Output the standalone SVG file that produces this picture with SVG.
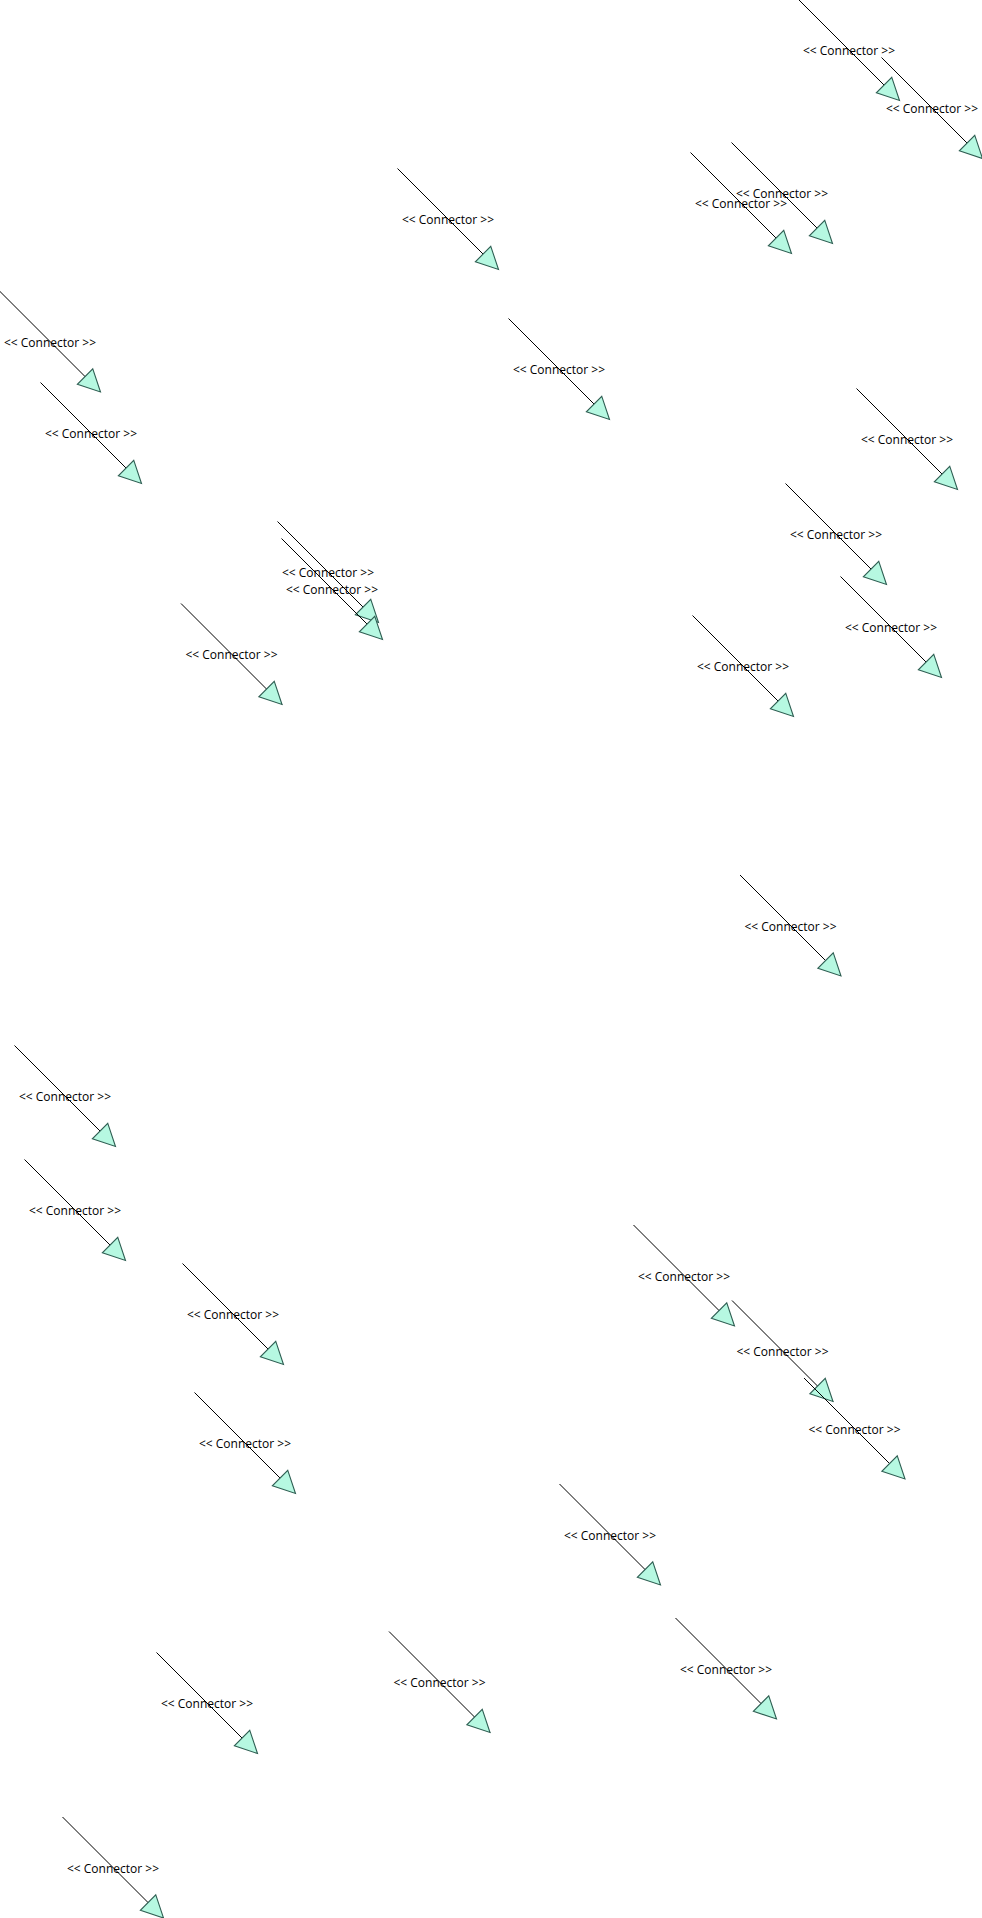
<svg xmlns="http://www.w3.org/2000/svg" width="982" height="1918" viewBox="0 0 982 1918">
<style>
.c line{stroke:#000;stroke-width:1;fill:none;marker-end:url(#ah)}
.c text{font-family:"Open Sans","Noto Sans","Liberation Sans",sans-serif;font-size:12px;fill:#000;text-anchor:middle}
</style>
<defs>
<marker id="ah" markerUnits="userSpaceOnUse" markerWidth="24" markerHeight="24" viewBox="-1 -11 22 22" refX="20" refY="0" orient="auto" overflow="visible">
<path d="M0,-10 L20,0 L0,10 Z" fill="#b6f8e1" stroke="#2e5e52" stroke-width="1" stroke-linejoin="miter"/>
</marker>
</defs>
<rect width="982" height="1918" fill="#fff"/>
<g id="connectors" class="c">
<g id="c1"><line x1="798.5" y1="-0.5" x2="899.5" y2="100.5"/><text x="849" y="55">&lt;&lt; Connector &gt;&gt;</text></g>
<g id="c2"><line x1="881.5" y1="57.5" x2="982.5" y2="158.5"/><text x="932" y="113">&lt;&lt; Connector &gt;&gt;</text></g>
<g id="c3"><line x1="731.5" y1="142.5" x2="832.5" y2="243.5"/><text x="782" y="198">&lt;&lt; Connector &gt;&gt;</text></g>
<g id="c4"><line x1="690.5" y1="152.5" x2="791.5" y2="253.5"/><text x="741" y="208">&lt;&lt; Connector &gt;&gt;</text></g>
<g id="c5"><line x1="397.5" y1="168.5" x2="498.5" y2="269.5"/><text x="448" y="224">&lt;&lt; Connector &gt;&gt;</text></g>
<g id="c6"><line x1="-0.5" y1="291" x2="100.5" y2="392"/><text x="50" y="346.5">&lt;&lt; Connector &gt;&gt;</text></g>
<g id="c7"><line x1="508.5" y1="318.5" x2="609.5" y2="419.5"/><text x="559" y="374">&lt;&lt; Connector &gt;&gt;</text></g>
<g id="c8"><line x1="40.5" y1="382.5" x2="141.5" y2="483.5"/><text x="91" y="438">&lt;&lt; Connector &gt;&gt;</text></g>
<g id="c9"><line x1="856.5" y1="388.5" x2="957.5" y2="489.5"/><text x="907" y="444">&lt;&lt; Connector &gt;&gt;</text></g>
<g id="c10"><line x1="785.5" y1="483.5" x2="886.5" y2="584.5"/><text x="836" y="539">&lt;&lt; Connector &gt;&gt;</text></g>
<g id="c11"><line x1="277.5" y1="521.5" x2="378.5" y2="622.5"/><text x="328" y="577">&lt;&lt; Connector &gt;&gt;</text></g>
<g id="c12"><line x1="281.5" y1="538.5" x2="382.5" y2="639.5"/><text x="332" y="594">&lt;&lt; Connector &gt;&gt;</text></g>
<g id="c13"><line x1="840.5" y1="576.5" x2="941.5" y2="677.5"/><text x="891" y="632">&lt;&lt; Connector &gt;&gt;</text></g>
<g id="c14"><line x1="181" y1="603.5" x2="282" y2="704.5"/><text x="231.5" y="659">&lt;&lt; Connector &gt;&gt;</text></g>
<g id="c15"><line x1="692.5" y1="615.5" x2="793.5" y2="716.5"/><text x="743" y="671">&lt;&lt; Connector &gt;&gt;</text></g>
<g id="c16"><line x1="740" y1="875" x2="841" y2="976"/><text x="790.5" y="930.5">&lt;&lt; Connector &gt;&gt;</text></g>
<g id="c17"><line x1="14.5" y1="1045.5" x2="115.5" y2="1146.5"/><text x="65" y="1101">&lt;&lt; Connector &gt;&gt;</text></g>
<g id="c18"><line x1="24.5" y1="1159.5" x2="125.5" y2="1260.5"/><text x="75" y="1215">&lt;&lt; Connector &gt;&gt;</text></g>
<g id="c19"><line x1="633.5" y1="1225" x2="734.5" y2="1326"/><text x="684" y="1280.5">&lt;&lt; Connector &gt;&gt;</text></g>
<g id="c20"><line x1="182.5" y1="1263.5" x2="283.5" y2="1364.5"/><text x="233" y="1319">&lt;&lt; Connector &gt;&gt;</text></g>
<g id="c21"><line x1="732" y1="1300.5" x2="833" y2="1401.5"/><text x="782.5" y="1356">&lt;&lt; Connector &gt;&gt;</text></g>
<g id="c22"><line x1="804" y1="1378" x2="905" y2="1479"/><text x="854.5" y="1433.5">&lt;&lt; Connector &gt;&gt;</text></g>
<g id="c23"><line x1="194.5" y1="1392.5" x2="295.5" y2="1493.5"/><text x="245" y="1448">&lt;&lt; Connector &gt;&gt;</text></g>
<g id="c24"><line x1="559.5" y1="1484" x2="660.5" y2="1585"/><text x="610" y="1539.5">&lt;&lt; Connector &gt;&gt;</text></g>
<g id="c25"><line x1="675.5" y1="1618" x2="776.5" y2="1719"/><text x="726" y="1673.5">&lt;&lt; Connector &gt;&gt;</text></g>
<g id="c26"><line x1="389" y1="1631.5" x2="490" y2="1732.5"/><text x="439.5" y="1687">&lt;&lt; Connector &gt;&gt;</text></g>
<g id="c27"><line x1="156.5" y1="1652.5" x2="257.5" y2="1753.5"/><text x="207" y="1708">&lt;&lt; Connector &gt;&gt;</text></g>
<g id="c28"><line x1="62.5" y1="1817" x2="163.5" y2="1918"/><text x="113" y="1872.5">&lt;&lt; Connector &gt;&gt;</text></g>
</g>
</svg>
